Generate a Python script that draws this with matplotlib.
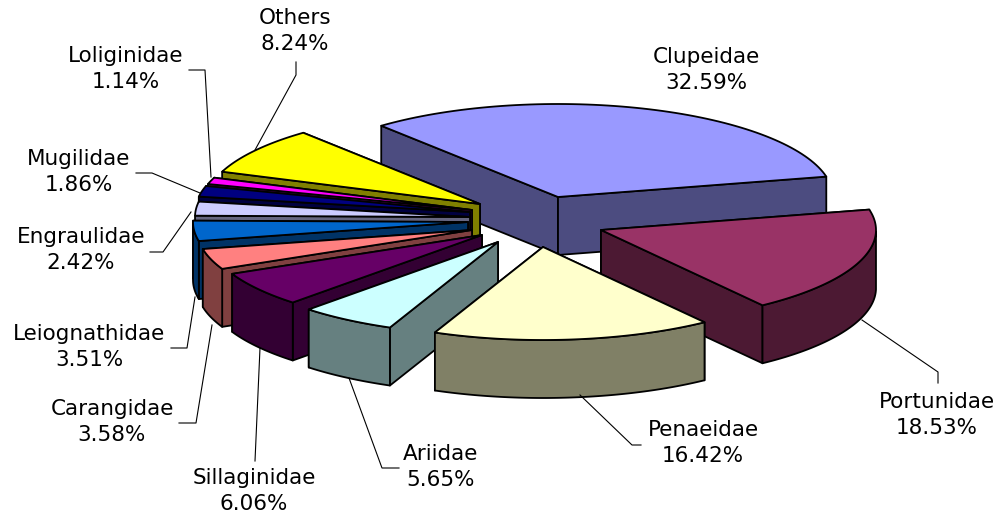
import numpy as np
import matplotlib
matplotlib.use('Agg')
import matplotlib.pyplot as plt
from matplotlib.patches import Polygon

plt.rcParams['font.family'] = ['DejaVu Sans']

# Data
families = ['Clupeidae', 'Portunidae', 'Penaeidae', 'Ariidae', 'Sillaginidae', 'Carangidae',
            'Leiognathidae', 'Engraulidae', 'Mugilidae', 'Loliginidae', 'Others']
shares = [32.59, 18.53, 16.42, 5.65, 6.06, 3.58, 3.51, 2.42, 1.86, 1.14, 8.24]

# Colours (top, side)
top_colors = ['#9999FF', '#993366', '#FFFFCC', '#CCFFFF', '#660066', '#FF8080',
              '#0066CC', '#CCCCFF', '#000080', '#FF00FF', '#FFFF00']
side_colors = ['#4C4C80', '#4C1933', '#808066', '#668080', '#330033', '#804040',
               '#003366', '#666680', '#000040', '#800080', '#808000']

# Pie geometry in pixels
rx, ry = 275, 93
depth = 58
start_angle = 130
apexes = [(558, 197), (601, 230), (543, 247), (498, 242), (482, 235), (472, 230),
          (468, 222), (470, 217), (470, 212), (472, 210), (480, 204)]
draw_order = [0, 10, 9, 8, 7, 6, 5, 4, 3, 1, 2]

# Label centres and leader lines
label_pos = [(706, 70), (937, 415), (703, 443), (441, 467), (254, 491), (112, 422),
             (89, 347), (81, 250), (79, 172), (126, 69), (295, 31)]
leaders = [None,
           [(862, 320), (938, 372), (938, 383)],
           [(580, 395), (632, 445), (641, 445)],
           [(349, 378), (382, 468), (399, 468)],
           [(260, 348), (255, 461)],
           [(212, 325), (196, 423), (179, 423)],
           [(195, 297), (187, 348), (171, 348)],
           [(191, 212), (163, 252), (150, 252)],
           [(200, 193), (152, 173), (136, 173)],
           [(211, 177), (205, 70), (189, 70)],
           [(255, 150), (296, 75), (296, 62)]]


def rim_point(apex, t):
    return apex[0] + rx * np.cos(t), apex[1] - ry * np.sin(t)


fig = plt.figure(figsize=(10.03, 5.18), dpi=100)
ax = fig.add_axes([0, 0, 1, 1])
ax.set_xlim(0, 1003)
ax.set_ylim(518, 0)
ax.axis('off')

# Work out slice angles from the shares (clockwise)
sweeps = np.radians(np.array(shares) * 3.6)
starts = np.radians(start_angle) - np.concatenate([[0], np.cumsum(sweeps)[:-1]])
lw = 1.3

for i in draw_order:
    apex = apexes[i]
    t0, t1 = starts[i], starts[i] - sweeps[i]
    ts = np.linspace(t0, t1, 80)
    arc = [rim_point(apex, t) for t in ts]

    # straight side faces, rear one first
    ends = sorted([arc[0], arc[-1]], key=lambda p: p[1])
    for p in ends:
        face = [apex, p, (p[0], p[1] + depth), (apex[0], apex[1] + depth)]
        ax.add_patch(Polygon(face, closed=True, fc=side_colors[i], ec='black', lw=lw, joinstyle='round'))

    # curved outer wall, only the part facing the viewer
    front = [p for p, t in zip(arc, ts) if np.sin(t) <= 0]
    if len(front) > 1:
        wall = front + [(x, y + depth) for x, y in front[::-1]]
        ax.add_patch(Polygon(wall, closed=True, fc=side_colors[i], ec='black', lw=lw, joinstyle='round'))

    ax.add_patch(Polygon([apex] + arc, closed=True, fc=top_colors[i], ec='black', lw=lw, joinstyle='round'))

for line in leaders:
    if line:
        xs, ys = zip(*line)
        ax.plot(xs, ys, color='black', lw=0.8, zorder=5)

for name, val, pos in zip(families, shares, label_pos):
    ax.text(pos[0], pos[1], f'{name}\n{val:.2f}%', ha='center', va='center',
            fontsize=15.5, linespacing=1.32, color='black', zorder=6)

plt.savefig('out.png', dpi=100)
